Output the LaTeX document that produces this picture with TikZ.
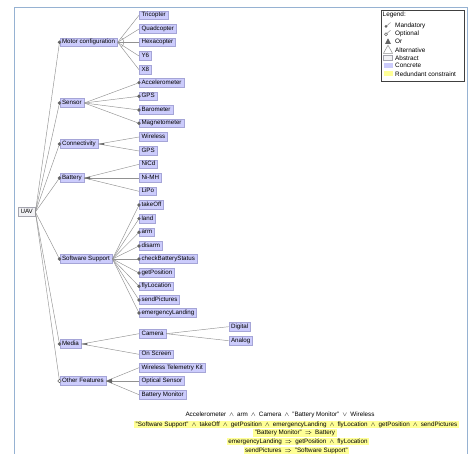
\documentclass[tikz,border=0pt]{standalone}
\usepackage{fontspec}
\setmainfont{Liberation Sans}
\definecolor{lav}{RGB}{204,204,252}
\definecolor{lavb}{RGB}{165,165,215}
\definecolor{absfill}{RGB}{242,242,245}
\definecolor{absb}{RGB}{165,165,175}
\definecolor{lineg}{RGB}{145,145,145}
\definecolor{dotc}{RGB}{100,100,100}
\definecolor{framec}{RGB}{150,178,210}
\definecolor{yel}{RGB}{255,255,150}
\newcommand{\myand}{\hspace{3pt}$\wedge$\hspace{3pt}}
\newcommand{\myor}{\hspace{3pt}$\vee$\hspace{3pt}}
\newcommand{\myimp}{\hspace{3pt}$\Rightarrow$\hspace{3pt}}
\begin{document}
\begin{tikzpicture}[x=1pt,y=-1pt,
  every node/.style={font=\fontsize{6.2}{7}\selectfont},
  feat/.style={rectangle, anchor=west, fill=lav, draw=lavb, line width=0.5pt,
    inner xsep=2.3pt, inner ysep=0pt, minimum height=8.6pt, text height=4.6pt, text depth=1.3pt},
  absf/.style={feat, fill=absfill, draw=absb},
  edge/.style={draw=lineg, line width=0.45pt},
  mand/.style={fill=dotc},
  opt/.style={draw=dotc, fill=white, line width=0.5pt},
  cons/.style={inner xsep=1.5pt, inner ysep=0pt, minimum height=7.6pt, text height=4.6pt, text depth=1.3pt, font=\fontsize{6.3}{7}\selectfont},
  lgd/.style={anchor=west, inner sep=0pt, font=\fontsize{6.4}{7}\selectfont}
]
\useasboundingbox (0,0) rectangle (475,454);
% frame
\draw[framec, line width=0.9pt] (14,454) -- (14,7) -- (467,7) -- (467,454);

% root
\node[absf] (uav) at (18,212) {UAV};

% parents
\node[feat] (motor) at (59.5,42.3) {Motor configuration};
\node[feat] (sensor) at (59.5,103) {Sensor};
\node[feat] (conn) at (59.5,144) {Connectivity};
\node[feat] (batt) at (59.5,178) {Battery};
\node[feat] (soft) at (59.5,259) {Software Support};
\node[feat] (media) at (59.5,344) {Media};
\node[feat] (other) at (59.5,381) {Other Features};

% children
\node[feat] (tri) at (139,15.3) {Tricopter};
\node[feat] (quad) at (139,29) {Quadcopter};
\node[feat] (hexa) at (139,42.3) {Hexacopter};
\node[feat] (ysix) at (139,56) {Y6};
\node[feat] (xeight) at (139,69.7) {X8};

\node[feat] (acc) at (139,82.7) {Accelerometer};
\node[feat] (gps) at (139,96.3) {GPS};
\node[feat] (baro) at (139,110) {Barometer};
\node[feat] (mag) at (139,123.3) {Magnetometer};

\node[feat] (wless) at (139,137) {Wireless};
\node[feat] (gpsb) at (139,151) {GPS};

\node[feat] (nicd) at (139,164.3) {NiCd};
\node[feat] (nimh) at (139,178) {Ni-MH};
\node[feat] (lipo) at (139,191.3) {LiPo};

\node[feat] (take) at (139,205) {takeOff};
\node[feat] (land) at (139,218.7) {land};
\node[feat] (arm) at (139,232.3) {arm};
\node[feat] (disarm) at (139,246) {disarm};
\node[feat] (check) at (139,259) {checkBatteryStatus};
\node[feat] (getpos) at (139,273) {getPosition};
\node[feat] (fly) at (139,286.3) {flyLocation};
\node[feat] (send) at (139,300) {sendPictures};
\node[feat] (emerg) at (139,313) {emergencyLanding};

\node[feat] (cam) at (139,333.7) {Camera};
\node[feat] (onscr) at (139,354.3) {On Screen};
\node[feat] (dig) at (228.5,326.7) {Digital};
\node[feat] (ana) at (228.5,340.7) {Analog};

\node[feat] (wtk) at (139,367.7) {Wireless Telemetry Kit};
\node[feat] (opt) at (139,381) {Optical Sensor};
\node[feat] (batmon) at (139,394.7) {Battery Monitor};

% edges root -> parents
\foreach \p in {motor,sensor,conn,batt,soft,media,other}
  \draw[edge] (uav.east) -- (\p.west);
% edges parent -> children
\foreach \c in {tri,quad,hexa,ysix,xeight} \draw[edge] (motor.east) -- (\c.west);
\foreach \c in {acc,gps,baro,mag} \draw[edge] (sensor.east) -- (\c.west);
\foreach \c in {wless,gpsb} \draw[edge] (conn.east) -- (\c.west);
\foreach \c in {nicd,nimh,lipo} \draw[edge] (batt.east) -- (\c.west);
\foreach \c in {take,land,arm,disarm,check,getpos,fly,send,emerg} \draw[edge] (soft.east) -- (\c.west);
\foreach \c in {cam,onscr} \draw[edge] (media.east) -- (\c.west);
\foreach \c in {wtk,opt,batmon} \draw[edge] (other.east) -- (\c.west);
\foreach \c in {dig,ana} \draw[edge] (cam.east) -- (\c.west);

% group markers: alternative (open arc)
\begin{scope}
  \clip (motor.east) -- (tri.west) -- (xeight.west) -- cycle;
  \draw[lineg, line width=0.5pt] (motor.east) circle (6pt);
\end{scope}
\begin{scope}
  \clip (cam.east) -- (dig.west) -- (ana.west) -- cycle;
  \draw[lineg, line width=0.5pt] (cam.east) circle (6pt);
\end{scope}
% group markers: or (filled sector)
\foreach \p/\a/\b in {conn/wless/gpsb, batt/nicd/lipo, media/cam/onscr, other/wtk/batmon}{
  \begin{scope}
    \clip (\p.east) circle (6pt);
    \fill[dotc] (\p.east) -- (\a.west) -- (\b.west) -- cycle;
  \end{scope}
}

% mandatory / optional dots
\foreach \p in {motor,sensor,conn,batt,soft,media}
  \fill[mand] (\p.west) circle (1.8pt);
\draw[opt] (other.west) circle (1.8pt);
\foreach \c in {acc,gps,baro,mag,take,land,arm,disarm,check,getpos,fly,send,emerg}
  \fill[mand] (\c.west) circle (1.8pt);

% legend
\node[draw=black!75, fill=white, line width=0.5pt, minimum width=83pt, minimum height=71pt, inner sep=0pt, anchor=north west] (legend) at (381,10) {};
\node[lgd] (lgtitle) at (382.5,15) {Legend:};
\node[lgd] (lmand) at (395,25.7) {Mandatory};
\node[lgd] (lopt) at (395,33.5) {Optional};
\node[lgd] (lor) at (395,41.7) {Or};
\node[lgd] (lalt) at (395,49.8) {Alternative};
\node[lgd] (labs) at (395,57.8) {Abstract};
\node[lgd] (lcon) at (395,65.8) {Concrete};
\node[lgd] (lred) at (395,73.8) {Redundant constraint};
\draw[lineg, line width=0.5pt] (386,26.5) -- (390.5,22.5);
\fill[dotc] (386,26.5) circle (1.5pt);
\draw[lineg, line width=0.5pt] (386,34.3) -- (390.5,30.3);
\draw[opt] (386,34.3) circle (1.5pt);
\fill[dotc] (388,38.3) -- (385,44) -- (391,44) -- cycle;
\draw[lineg, line width=0.5pt] (388,45.2) -- (383.5,53.3) -- (392.5,53.3) -- cycle;
\draw[absb, fill=absfill, line width=0.4pt] (383.5,55.5) rectangle (392.5,60.3);
\fill[lav] (383.5,63.5) rectangle (392.5,68.3);
\fill[yel] (383.5,71.5) rectangle (392.5,76.3);

% constraints
\node[cons] (c1) at (280,414.7) {Accelerometer\myand arm\myand Camera\myand "Battery Monitor"\myor Wireless};
\node[cons, fill=yel] (c2) at (296.5,424.7) {"Software Support"\myand takeOff\myand getPosition\myand emergencyLanding\myand flyLocation\myand getPosition\myand sendPictures};
\node[cons, fill=yel] (c3) at (295,433) {"Battery Monitor"\myimp Battery};
\node[cons, fill=yel] (c4) at (298,441.7) {emergencyLanding\myimp getPosition\myand flyLocation};
\node[cons, fill=yel] (c5) at (296.5,450.5) {sendPictures\myimp "Software Support"};
\end{tikzpicture}
\end{document}
